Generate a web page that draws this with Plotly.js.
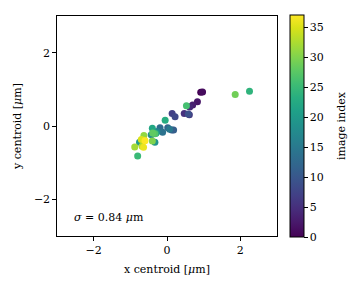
<!DOCTYPE html>
<html>
<head>
<meta charset="utf-8">
<script src="https://cdn.plot.ly/plotly-3.0.1.min.js"></script>
<style>html,body{margin:0;padding:0;background:#fff;}#chart{width:353px;height:288px;}</style>
</head>
<body>
<div id="chart"></div>
<script>
// image index 0..37
const imageIndex = [0,1,2,3,4,5,6,7,8,9,10,11,12,13,14,15,16,17,18,19,20,21,22,23,24,25,26,27,28,29,30,31,32,33,34,35,36,37];
const xCentroid = [0.92,0.97,0.83,0.70,0.62,0.47,0.61,0.14,0.22,0.58,0.13,0.18,0.02,-0.19,-0.12,0.07,-0.27,-0.36,-0.43,-0.33,-0.75,-0.30,-0.40,-0.05,2.25,-0.80,0.53,-0.33,-0.39,1.86,-0.40,-0.63,-0.88,-0.68,-0.62,-0.70,-0.64,-0.60];
const yCentroid = [0.92,0.93,0.66,0.57,0.52,0.34,0.31,0.34,0.25,0.33,-0.11,-0.11,-0.05,-0.05,-0.17,-0.09,-0.15,-0.20,-0.24,-0.44,-0.44,-0.20,-0.06,0.16,0.95,-0.82,0.55,-0.21,-0.19,0.86,-0.41,-0.26,-0.57,-0.55,-0.39,-0.37,-0.58,-0.40];
const colorTicks = [0,5,10,15,20,25,30,35];
const sigmaText = '<i>σ</i> = 0.84 <i>μ</i>m';
const colorbarTitle = 'image index';

const font = {family: '"DejaVu Serif", "Liberation Serif", serif', size: 11, color: '#000'};

const trace = {
  type: 'scatter',
  mode: 'markers',
  x: xCentroid,
  y: yCentroid,
  marker: {
    size: 7,
    color: imageIndex,
    colorscale: 'Viridis',
    cmin: 0,
    cmax: 37,
    line: {width: 0},
    colorbar: {
      x: 1.059, xanchor: 'left', xpad: 0,
      y: 0.5, yanchor: 'middle', ypad: 0,
      len: 1.01, lenmode: 'fraction',
      thickness: 14, thicknessmode: 'pixels',
      outlinewidth: 1, outlinecolor: '#000',
      tickvals: colorTicks,
      ticktext: colorTicks.map(String),
      ticks: 'outside', ticklen: 3.5, tickcolor: '#000', tickwidth: 1,
      tickfont: font
    }
  },
  hoverinfo: 'none'
};

const layout = {
  width: 353, height: 288,
  margin: {l: 57, r: 76, t: 16, b: 52},
  paper_bgcolor: '#fff', plot_bgcolor: '#fff',
  font: font,
  showlegend: false,
  xaxis: {
    range: [-3, 3], tickvals: [-2, 0, 2], ticktext: ['−2', '0', '2'],
    showgrid: false, zeroline: false,
    showline: true, linecolor: '#000', linewidth: 1.2, mirror: true,
    ticks: 'outside', ticklen: 3.5, tickcolor: '#000', tickwidth: 1,
    tickfont: font,
    title: {text: 'x centroid [<i>μ</i>m]', font: font, standoff: 9}
  },
  yaxis: {
    range: [-3, 3], tickvals: [-2, 0, 2], ticktext: ['−2', '0', '2'],
    showgrid: false, zeroline: false,
    showline: true, linecolor: '#000', linewidth: 1.2, mirror: true,
    ticks: 'outside', ticklen: 3.5, tickcolor: '#000', tickwidth: 1,
    tickfont: font,
    title: {text: 'y centroid [<i>μ</i>m]', font: font, standoff: 10}
  },
  annotations: [{
    x: -2.6, y: -2.5, xref: 'x', yref: 'y',
    xanchor: 'left', yanchor: 'middle',
    text: sigmaText, showarrow: false, font: font
  }, {
    x: 1.291, y: 0.5, xref: 'paper', yref: 'paper',
    xanchor: 'center', yanchor: 'middle', textangle: -90,
    text: colorbarTitle, showarrow: false, font: font
  }]
};

Plotly.newPlot('chart', [trace], layout, {staticPlot: true, displayModeBar: false});
</script>
</body>
</html>
